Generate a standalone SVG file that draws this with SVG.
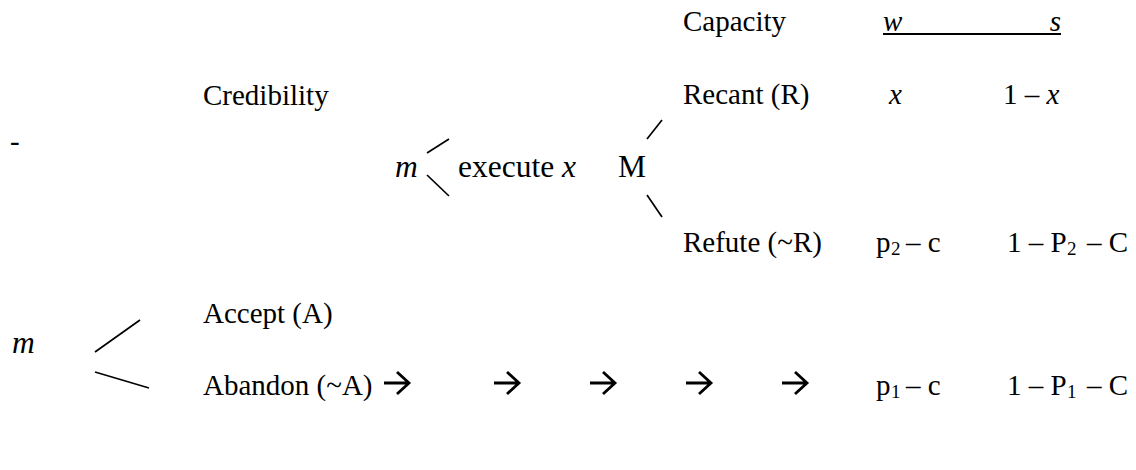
<svg xmlns="http://www.w3.org/2000/svg" width="1136" height="470" viewBox="0 0 1136 470">
<style>
text{font-family:"Liberation Serif","Times New Roman",serif;font-size:29px;fill:#000}
.i{font-style:italic}
.big{font-size:31.5px}
.sub{font-size:19px}
.ln{stroke:#000;stroke-width:1.7;fill:none;stroke-linecap:butt}
.arr{stroke:#000;stroke-width:2.8;fill:none;stroke-linejoin:miter}
</style>
<defs>
<path id="arrow" class="arr" d="M0,0 H25 M13,-11 L25,0 L13,11"/>
</defs>
<rect width="1136" height="470" fill="#fff"/>
<g id="header">
<text x="683" y="31">Capacity</text>
<text x="883" y="31" class="i">w</text>
<text x="1061" y="31" class="i" text-anchor="end">s</text>
<line x1="883" y1="34" x2="1061" y2="34" stroke="#000" stroke-width="2"/>
</g>
<g id="dash"><text x="10" y="151">-</text></g>
<g id="credibility"><text x="203" y="105">Credibility</text></g>
<g id="recant">
<text x="683" y="104">Recant (R)</text>
<text x="889" y="104" class="i">x</text>
<text x="1003" y="104">1 – <tspan class="i">x</tspan></text>
</g>
<g id="node-m-execute">
<text x="395" y="177" class="i big">m</text>
<text x="458" y="177" class="big">execute <tspan class="i">x</tspan></text>
</g>
<g id="node-M"><text x="618" y="177" class="big">M</text></g>
<g id="refute">
<text x="683" y="252">Refute (~R)</text>
<text x="876" y="252">p<tspan class="sub" x="891" y="255">2</tspan><tspan x="906" y="252">– c</tspan></text>
<text x="1007" y="252">1 – P<tspan class="sub" x="1067" y="255">2</tspan><tspan x="1087" y="252">– C</tspan></text>
</g>
<g id="accept"><text x="203" y="323">Accept (A)</text></g>
<g id="node-m-root"><text x="12" y="353" class="i big">m</text></g>
<g id="abandon">
<text x="203" y="395">Abandon (~A)</text>
<text x="876" y="395">p<tspan class="sub" x="891" y="398">1</tspan><tspan x="906" y="395">– c</tspan></text>
<text x="1007" y="395">1 – P<tspan class="sub" x="1067" y="398">1</tspan><tspan x="1087" y="395">– C</tspan></text>
</g>
<g id="connectors">
<line class="ln" x1="427" y1="153" x2="449" y2="139"/>
<line class="ln" x1="427" y1="175" x2="449" y2="196"/>
<line class="ln" x1="647" y1="139" x2="662" y2="120"/>
<line class="ln" x1="647" y1="195" x2="662" y2="217"/>
<line class="ln" x1="95" y1="352" x2="140" y2="320"/>
<line class="ln" x1="95" y1="372" x2="149" y2="388"/>
<use href="#arrow" x="384" y="383"/>
<use href="#arrow" x="494" y="383"/>
<use href="#arrow" x="590" y="383"/>
<use href="#arrow" x="686" y="383"/>
<use href="#arrow" x="782" y="383"/>
</g>
</svg>
